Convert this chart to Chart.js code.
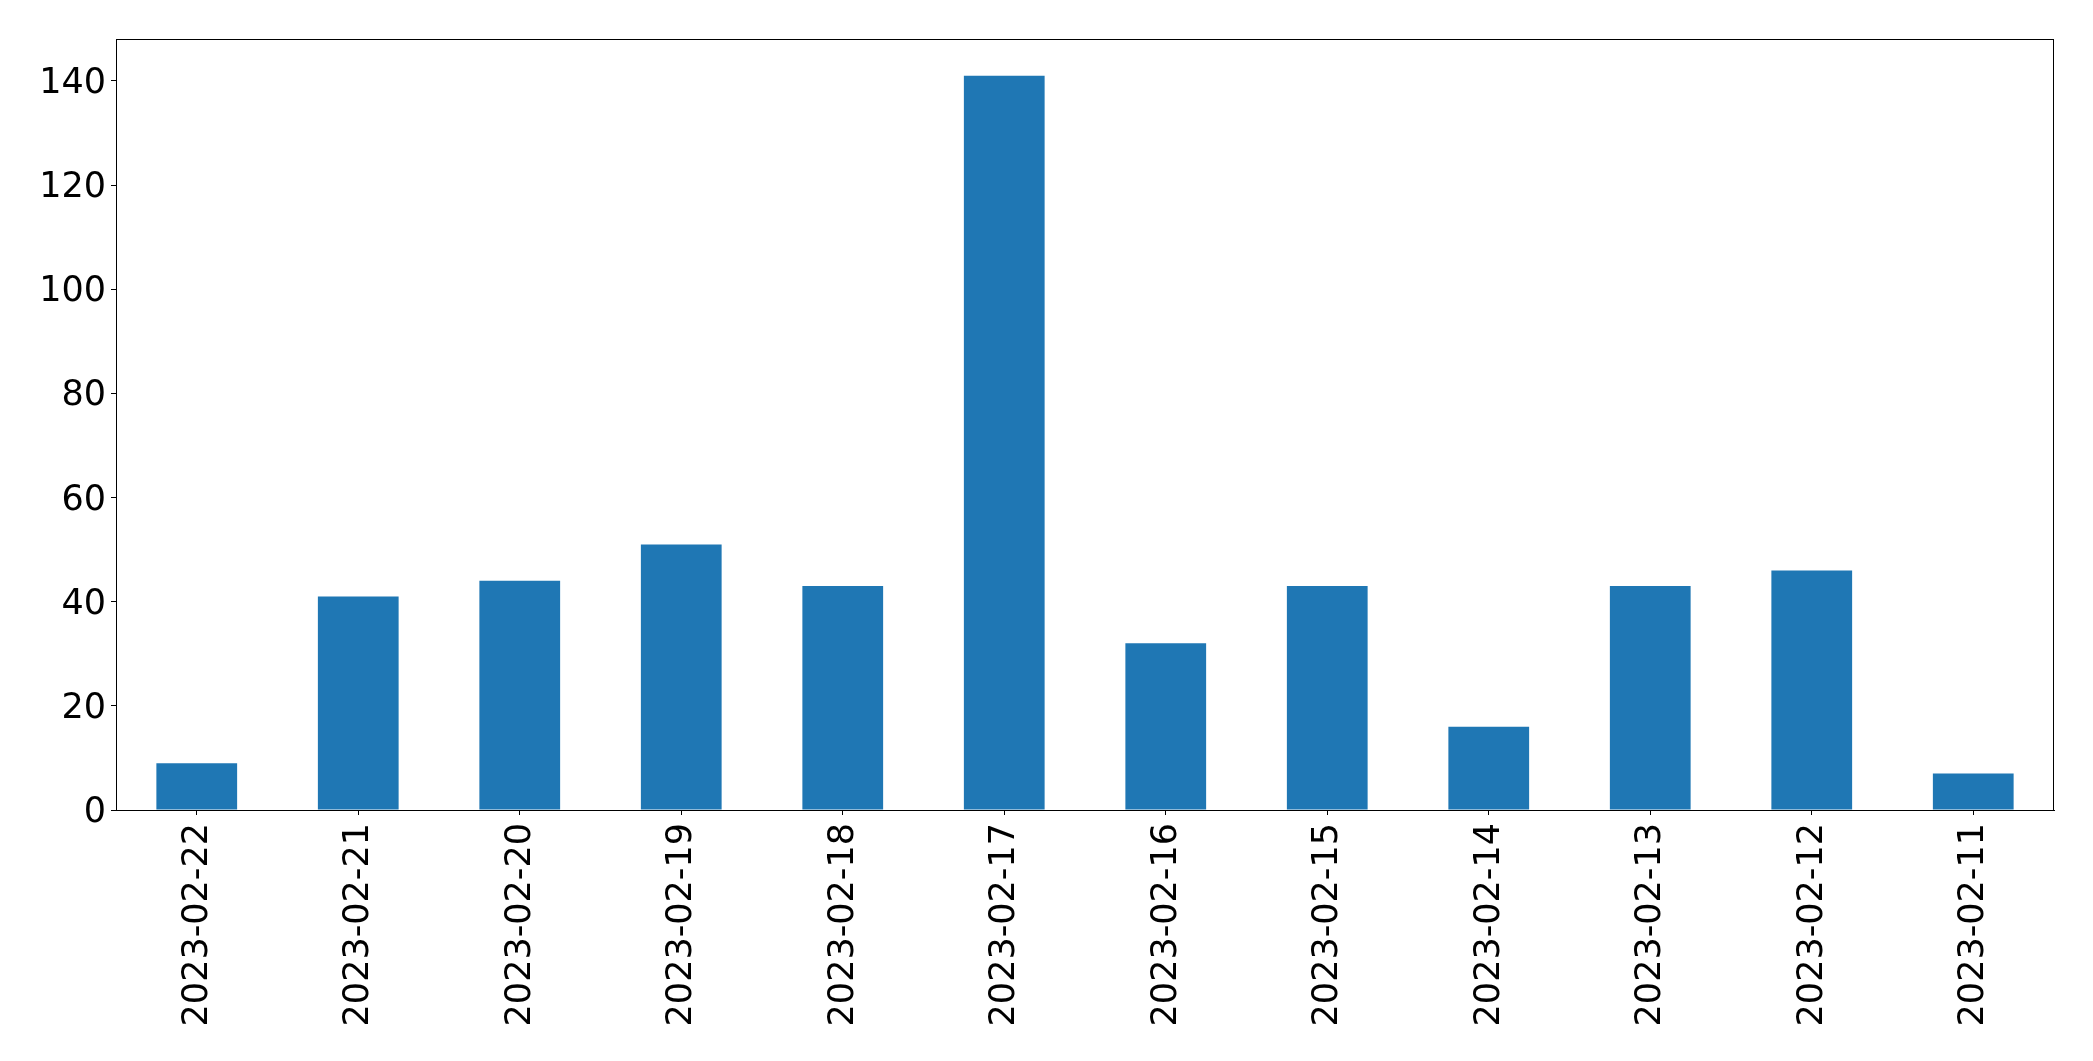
<!DOCTYPE html>
<html>
<head>
<meta charset="utf-8">
<script src="https://cdn.jsdelivr.net/npm/chart.js@4/dist/chart.umd.min.js"></script>
<style>
  html, body { margin: 0; padding: 0; background: #fff; }
  #wrap { width: 2093px; height: 1061px; }
</style>
</head>
<body>
<div id="wrap"><canvas id="canvas" width="2093" height="1061"></canvas></div>
<script>
// dates as in the picture (newest first)
let tage = ['2023-02-22','2023-02-21','2023-02-20','2023-02-19','2023-02-18','2023-02-17',
            '2023-02-16','2023-02-15','2023-02-14','2023-02-13','2023-02-12','2023-02-11']
let anzahl = [9, 41, 44, 51, 43, 141, 32, 43, 16, 43, 46, 7]
let yTicks = [0, 20, 40, 60, 80, 100, 120, 140]

function el(cssSelector){
    return document.querySelector(cssSelector)
}

// frame around the plot area like matplotlib spines
const rahmen = {
    id: 'rahmen',
    afterDraw(chart){
        let a = chart.chartArea
        let ctx = chart.ctx
        ctx.save()
        ctx.strokeStyle = '#000'
        ctx.lineWidth = 1
        ctx.strokeRect(a.left + 0.5, a.top + 0.5, a.right - a.left - 1, a.bottom - a.top)
        ctx.restore()
    }
}

let font = { family: 'DejaVu Sans', size: 35 }

new Chart(el('#canvas').getContext('2d'), {
    type: 'bar',
    data: {
        labels: tage,
        datasets: [{
            data: anzahl,
            backgroundColor: '#1f77b4',
            borderWidth: 0,
            barPercentage: 0.5,
            categoryPercentage: 1.0
        }]
    },
    options: {
        responsive: false,
        animation: false,
        devicePixelRatio: 1,
        layout: { padding: { left: 0, top: 39, right: 39, bottom: 0 } },
        plugins: { legend: { display: false }, tooltip: { enabled: false } },
        scales: {
            x: {
                offset: true,
                grid: { offset: false, drawOnChartArea: false, tickLength: 5, color: '#000', tickWidth: 1 },
                border: { display: true, color: '#000', width: 1 },
                ticks: { color: '#000', font: font, autoSkip: false, maxRotation: 90, minRotation: 90, padding: 8, labelOffset: 1 },
                afterFit: s => { s.height = 251 }
            },
            y: {
                min: 0,
                max: 141 * 1.05,
                grid: { drawOnChartArea: false, tickLength: 5, color: '#000', tickWidth: 1 },
                border: { display: true, color: '#000', width: 1 },
                ticks: { color: '#000', font: font, stepSize: 20, padding: 5, labelOffset: 3 },
                afterBuildTicks: s => { s.ticks = yTicks.map(v => ({ value: v })) },
                afterFit: s => { s.width = 116 }
            }
        }
    },
    plugins: [rahmen]
})
</script>
</body>
</html>
